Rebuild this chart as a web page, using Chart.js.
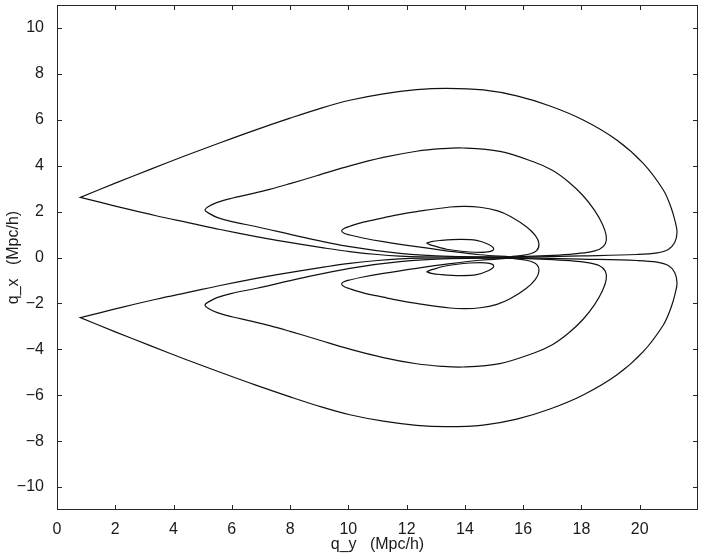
<!DOCTYPE html>
<html>
<head>
<meta charset="utf-8">
<script src="https://cdn.jsdelivr.net/npm/chart.js@4.4.1/dist/chart.umd.min.js"></script>
<style>
  html, body { margin: 0; padding: 0; background: #ffffff; }
  #wrap { width: 703px; height: 554px; }
</style>
</head>
<body>
<div id="wrap"><canvas id="c" width="703" height="554"></canvas></div>
<script>
// ---- tick labels ----
const xTickValues = [0, 2, 4, 6, 8, 10, 12, 14, 16, 18, 20];
const yTickValues = [-10, -8, -6, -4, -2, 0, 2, 4, 6, 8, 10];

// ---- contour 1 (outermost); the tip point is listed twice to keep it sharp ----
const c1Qy = [15.5, 14.0, 12.5, 11.77, 11.0, 10.05, 9.2, 8.34, 7.5, 6.75, 5.6, 4.58, 3.4, 2.29, 1.5, 0.8, 0.8, 2.0, 3.2, 4.4, 5.6, 6.8, 8.0, 9.1, 10.05, 11.2, 12.34, 13.37, 14.63, 15.78, 16.92, 18.06, 19.21, 20.12, 20.81, 21.07, 21.22, 21.28, 21.2, 20.98, 20.6, 19.9, 18.0, 16.5, 15.5];
const c1QxUpper = [0.01, 0.02, 0.03, 0.06, 0.13, 0.26, 0.41, 0.58, 0.76, 0.93, 1.22, 1.5, 1.82, 2.15, 2.4, 2.62, 2.62, 3.24, 3.84, 4.43, 5.0, 5.55, 6.07, 6.52, 6.85, 7.13, 7.31, 7.37, 7.30, 7.04, 6.60, 5.99, 5.12, 4.10, 2.94, 2.2, 1.55, 1.1, 0.65, 0.35, 0.2, 0.13, 0.07, 0.03, 0.01];
const c1QxLower = [-0.01, -0.02, -0.03, -0.06, -0.13, -0.26, -0.41, -0.58, -0.76, -0.93, -1.22, -1.5, -1.82, -2.15, -2.4, -2.62, -2.62, -3.24, -3.84, -4.43, -5.0, -5.55, -6.07, -6.52, -6.85, -7.13, -7.31, -7.37, -7.30, -7.04, -6.60, -5.99, -5.12, -4.10, -2.94, -2.2, -1.55, -1.1, -0.65, -0.35, -0.2, -0.13, -0.07, -0.03, -0.01];

// ---- contour 2 ----
const c2Qy = [15.5, 13.49, 11.77, 10.05, 8.34, 6.86, 6.0, 5.49, 5.25, 5.08, 5.2, 5.5, 6.0, 6.62, 7.3, 8.0, 8.91, 10.05, 11.2, 12.34, 13.2, 13.94, 15.2, 16.35, 17.0, 17.55, 18.05, 18.45, 18.72, 18.85, 18.82, 18.62, 18.2, 17.6, 16.8, 15.5];
const c2QxUpper = [0.02, 0.05, 0.18, 0.47, 0.91, 1.34, 1.56, 1.75, 1.9, 2.06, 2.22, 2.4, 2.58, 2.76, 2.97, 3.22, 3.56, 3.99, 4.36, 4.63, 4.74, 4.77, 4.62, 4.17, 3.8, 3.3, 2.7, 2.05, 1.45, 0.95, 0.6, 0.36, 0.22, 0.14, 0.08, 0.02];
const c2QxLower = [-0.02, -0.05, -0.18, -0.47, -0.91, -1.34, -1.56, -1.75, -1.9, -2.06, -2.22, -2.4, -2.58, -2.76, -2.97, -3.22, -3.56, -3.99, -4.36, -4.63, -4.74, -4.77, -4.62, -4.17, -3.8, -3.3, -2.7, -2.05, -1.45, -0.95, -0.6, -0.36, -0.22, -0.14, -0.08, -0.02];

// ---- contour 3 ----
const c3Qy = [15.55, 14.52, 13.49, 12.34, 11.2, 10.5, 10.05, 9.85, 9.77, 9.85, 10.05, 10.51, 11.2, 11.77, 12.34, 13.49, 14.0, 14.52, 15.1, 15.55, 16.1, 16.42, 16.54, 16.46, 16.15, 15.55];
const c3QxUpper = [0.03, 0.12, 0.27, 0.47, 0.69, 0.85, 0.98, 1.06, 1.15, 1.26, 1.36, 1.54, 1.73, 1.88, 2.0, 2.2, 2.23, 2.19, 2.04, 1.80, 1.35, 0.95, 0.6, 0.3, 0.13, 0.03];
const c3QxLower = [-0.03, -0.12, -0.27, -0.47, -0.69, -0.85, -0.98, -1.06, -1.15, -1.26, -1.36, -1.54, -1.73, -1.88, -2.0, -2.2, -2.23, -2.19, -2.04, -1.80, -1.35, -0.95, -0.6, -0.3, -0.13, -0.03];

// ---- contour 4 (innermost) ----
const c4Qy = [12.68, 12.85, 13.14, 13.83, 14.4, 14.8, 14.98, 14.95, 14.7, 14.17, 13.37, 12.9, 12.68];
const c4QxUpper = [0.62, 0.69, 0.74, 0.79, 0.75, 0.58, 0.42, 0.3, 0.23, 0.24, 0.36, 0.52, 0.62];
const c4QxLower = [-0.62, -0.69, -0.74, -0.79, -0.75, -0.58, -0.42, -0.3, -0.23, -0.24, -0.36, -0.52, -0.62];

function pts(xs, ys) { return xs.map((v, i) => ({ x: v, y: ys[i] })); }
function ds(xs, ys) {
  return {
    data: pts(xs, ys),
    showLine: true,
    borderColor: '#111111',
    borderWidth: 1.2,
    pointRadius: 0,
    pointHoverRadius: 0,
    tension: 0.35,
    fill: false
  };
}

const frame = {
  id: 'frame',
  afterDraw(chart) {
    const { ctx, chartArea: a, scales: { x, y } } = chart;
    const L = 5;
    ctx.save();
    ctx.strokeStyle = '#262626';
    ctx.lineWidth = 1;
    ctx.beginPath();
    x.ticks.forEach(t => {
      const px = Math.round(x.getPixelForValue(t.value)) + 0.5;
      ctx.moveTo(px, a.bottom); ctx.lineTo(px, a.bottom - L);
      ctx.moveTo(px, a.top); ctx.lineTo(px, a.top + L);
    });
    y.ticks.forEach(t => {
      const py = Math.round(y.getPixelForValue(t.value)) + 0.5;
      ctx.moveTo(a.left, py); ctx.lineTo(a.left + L, py);
      ctx.moveTo(a.right, py); ctx.lineTo(a.right - L, py);
    });
    ctx.stroke();
    ctx.strokeRect(Math.round(a.left) + 0.5, Math.round(a.top) + 0.5,
                   Math.round(a.right - a.left) - 1, Math.round(a.bottom - a.top) - 1);
    ctx.restore();
  }
};

Chart.defaults.font.family = "'Liberation Sans', Arial, Helvetica, sans-serif";
Chart.defaults.font.size = 16;
Chart.defaults.color = '#1a1a1a';

new Chart(document.getElementById('c'), {
  type: 'scatter',
  data: {
    datasets: [
      ds(c1Qy, c1QxUpper), ds(c1Qy, c1QxLower),
      ds(c2Qy, c2QxUpper), ds(c2Qy, c2QxLower),
      ds(c3Qy, c3QxUpper), ds(c3Qy, c3QxLower),
      ds(c4Qy, c4QxUpper), ds(c4Qy, c4QxLower)
    ]
  },
  options: {
    responsive: false,
    animation: false,
    layout: { padding: { left: 0, right: 5, top: 5, bottom: 0 } },
    plugins: { legend: { display: false }, tooltip: { enabled: false } },
    scales: {
      x: {
        type: 'linear', min: 0, max: 22,
        grid: { display: false },
        border: { display: false },
        afterBuildTicks: s => { s.ticks = xTickValues.map(v => ({ value: v })); },
        afterFit: s => { s.height = 44; s.paddingLeft = 0; s.paddingRight = 0; },
        ticks: { padding: 2, maxRotation: 0, autoSkip: false,
                 callback: v => String(v) },
        title: { display: true, text: 'q_y   (Mpc/h)', padding: { top: 0, bottom: 0 } }
      },
      y: {
        type: 'linear', min: -11, max: 11,
        grid: { display: false },
        border: { display: false },
        afterBuildTicks: s => { s.ticks = yTickValues.map(v => ({ value: v })); },
        afterFit: s => { s.width = 57; s.paddingTop = 0; s.paddingBottom = 0; },
        ticks: { padding: 5, autoSkip: false,
                 callback: v => (v < 0 ? '\u2212' + Math.abs(v) : String(v)) },
        title: { display: true, text: 'q_x   (Mpc/h)', padding: { top: 4, bottom: 0 } }
      }
    }
  },
  plugins: [frame]
});
</script>
</body>
</html>
